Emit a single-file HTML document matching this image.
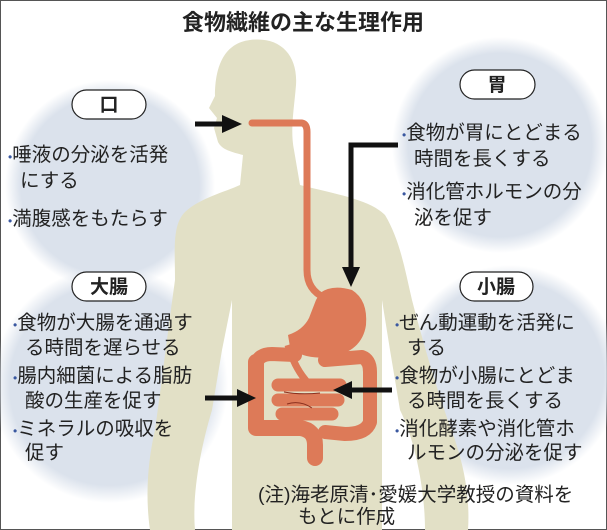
<!DOCTYPE html>
<html><head><meta charset="utf-8"><style>
html,body{margin:0;padding:0;background:#fff}
svg{display:block}
text{font-family:"Liberation Sans","Noto Sans CJK JP",sans-serif;fill:#222}
</style></head><body>
<svg width="607" height="530" viewBox="0 0 607 530" xmlns="http://www.w3.org/2000/svg">
<rect x="0.5" y="0.5" width="606" height="529" fill="#fff" stroke="#555"/>
<defs>
<radialGradient id="c" cx="50%" cy="50%" r="50%">
<stop offset="0" stop-color="#dbe2ec"/><stop offset="0.85" stop-color="#dbe2ec"/><stop offset="1" stop-color="#dbe2ec" stop-opacity="0"/>
</radialGradient>
</defs>
<circle cx="110" cy="185" r="105" fill="url(#c)"/>
<circle cx="500" cy="145" r="108" fill="url(#c)"/>
<circle cx="110" cy="385" r="118" fill="url(#c)"/>
<circle cx="510" cy="375" r="110" fill="url(#c)"/>
<!-- body -->
<path fill="#e2e0c6" d="M250 40 C280 36 298 55 296 85 C294 110 290 130 294 150 L300 185 C340 195 370 200 385 215 C400 240 405 270 412 300 C425 350 440 400 455 440 C465 470 470 500 468 530 L425 530 C425 490 415 440 400 410 L390 350 L382 300 L382 530 L232 530 L232 300 L222 350 L212 410 C200 450 192 495 195 530 L150 530 C145 495 148 460 155 430 C162 380 168 330 175 280 C175 250 172 225 185 212 C200 198 225 192 240 185 L243 155 C232 152 222 150 218 142 L214 128 L217 118 L209 108 L215 96 C215 65 225 43 250 40Z"/>
<!-- digestive -->
<g fill="none" stroke="#dd7a58" stroke-linecap="round" stroke-linejoin="round">
<path d="M252 123 L302 123 Q307 124 307 132 L307 270 Q307 290 325 298" stroke-width="7"/>
<path d="M256 362 L256 428 L300 428 Q315 430 315 445 L315 458" stroke-width="16"/>
<path d="M256 365 Q258 354 272 354 L295 355 M325 360 L362 357 Q370 360 370 372 L370 422 Q366 434 345 434 L325 432" stroke-width="14"/>
<path d="M278 385 L340 385 M278 400 L338 400 M282 414 L332 414" stroke-width="13"/>
</g>
<path d="M320 293 Q332 284 352 290 Q368 300 366 325 Q362 352 330 357 Q303 360 290 347 L288 335 Q303 330 309 318 L316 300Z" fill="#dd7a58"/>
<path d="M288 345 Q295 370 310 385" stroke="#dd7a58" stroke-width="7" fill="none"/>
<path d="M284 392 Q300 395 320 393 M287 404 Q300 400 312 408" stroke="#8a2f1e" stroke-width="1" fill="none"/>
<!-- arrows -->
<g stroke="#111" stroke-width="5" fill="none">
<path d="M195 124 L225 124"/>
<path d="M398 145 L351 145 L351 270"/>
<path d="M205 398 L240 398"/>
<path d="M392 390 L350 390"/>
</g>
<g fill="#111">
<path d="M222 115 L242 124 L222 133Z"/>
<path d="M342 267 L351 287 L360 267Z"/>
<path d="M237 389 L256 398 L237 407Z"/>
<path d="M352 381 L333 390 L352 399Z"/>
</g>
<!-- pills -->
<g fill="#fff" stroke="#222" stroke-width="1.2">
<rect x="72" y="90" width="74" height="29" rx="14.5"/>
<rect x="460" y="70" width="75" height="29" rx="14.5"/>
<rect x="72" y="272" width="74" height="29" rx="14.5"/>
<rect x="460" y="272" width="73" height="29" rx="14.5"/>
</g>
<g font-size="19" font-weight="bold" text-anchor="middle">
<text x="109" y="111">口</text>
<text x="497" y="91">胃</text>
<text x="109" y="293">大腸</text>
<text x="496" y="293">小腸</text>
</g>
<text x="303" y="30" font-size="22" font-weight="bold" text-anchor="middle">食物繊維の主な生理作用</text>
<g font-size="19.5">
<text x="8" y="161"><tspan fill="#3a58a0" font-size="12">•</tspan>唾液の分泌を活発</text>
<text x="20" y="187">にする</text>
<text x="8" y="225"><tspan fill="#3a58a0" font-size="12">•</tspan>満腹感をもたらす</text>
<text x="402" y="139"><tspan fill="#3a58a0" font-size="12">•</tspan>食物が胃にとどまる</text>
<text x="414" y="165">時間を長くする</text>
<text x="402" y="198"><tspan fill="#3a58a0" font-size="12">•</tspan>消化管ホルモンの分</text>
<text x="414" y="224">泌を促す</text>
<text x="13" y="329"><tspan fill="#3a58a0" font-size="12">•</tspan>食物が大腸を通過す</text>
<text x="25" y="354">る時間を遅らせる</text>
<text x="13" y="382"><tspan fill="#3a58a0" font-size="12">•</tspan>腸内細菌による脂肪</text>
<text x="25" y="407">酸の生産を促す</text>
<text x="13" y="435"><tspan fill="#3a58a0" font-size="12">•</tspan>ミネラルの吸収を</text>
<text x="25" y="459">促す</text>
<text x="395" y="329"><tspan fill="#3a58a0" font-size="12">•</tspan>ぜん動運動を活発に</text>
<text x="407" y="354">する</text>
<text x="395" y="382"><tspan fill="#3a58a0" font-size="12">•</tspan>食物が小腸にとどま</text>
<text x="407" y="407">る時間を長くする</text>
<text x="395" y="435"><tspan fill="#3a58a0" font-size="12">•</tspan>消化酵素や消化管ホ</text>
<text x="407" y="459">ルモンの分泌を促す</text>
<text x="258" y="501">(注)海老原清･愛媛大学教授の資料を</text>
<text x="298" y="523">もとに作成</text>
</g>
</svg>
</body></html>
